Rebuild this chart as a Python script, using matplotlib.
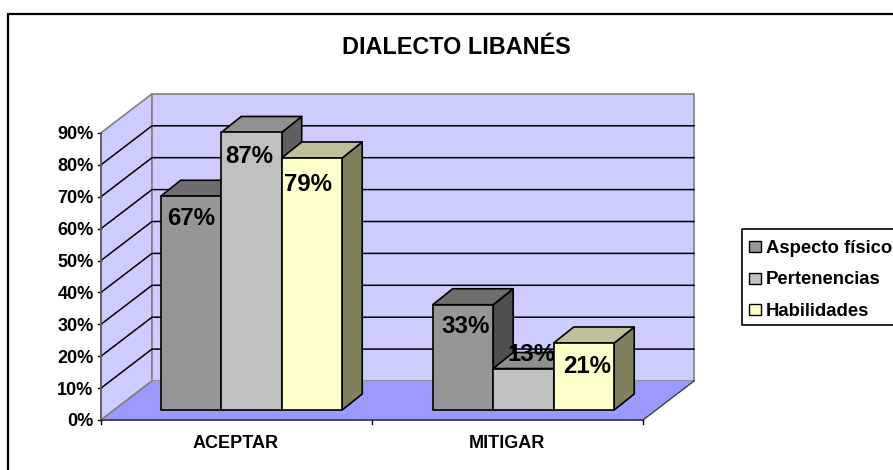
import matplotlib
matplotlib.use("Agg")
from matplotlib import pyplot as plt
from matplotlib.patches import Polygon

plt.rcParams['font.family'] = ['Liberation Sans', 'DejaVu Sans']

title = "DIALECTO LIBANÉS"
categories = ["ACEPTAR", "MITIGAR"]
series_names = ["Aspecto físico", "Pertenencias", "Habilidades"]
aspecto = [67, 33]
pertenencias = [87, 13]
habilidades = [79, 21]
y_ticks = [0, 10, 20, 30, 40, 50, 60, 70, 80, 90]

# face colours per series: front, top, side
front_cols = ["#969696", "#C0C0C0", "#FFFFCC"]
top_cols = ["#6E6E6E", "#909090", "#BFBF99"]
side_cols = ["#4F4F4F", "#606060", "#80805F"]

# layout in pixels of the 893x470 picture
X0, X1 = 101, 643     # floor front edge
Y0, PX_PER_PCT = 420, 3.19
WALL_DX, WALL_DY = 51, 39
BAR_DX, BAR_DY = 20, 16
BAR_BASE = 410
BAR_W = 60.5
GROUP_X = [160.7, 432.7]
# label offsets from bar front centre / bar top (one per category, per series)
LABEL_DX = [[0, -2, -3.5], [3, 8, 3]]
LABEL_DY = [[22.5, 24.5, 26.5], [21.5, -14.5, 23.5]]

fig = plt.figure(figsize=(8.93, 4.70), dpi=100)
ax = fig.add_axes([0, 0, 1, 1])
ax.set_xlim(0, 893)
ax.set_ylim(470, 0)
ax.axis("off")


def py(v):
    return Y0 - v * PX_PER_PCT


def face(pts, col, z, ec="black", lw=1.2):
    ax.add_patch(Polygon(pts, closed=True, fc=col, ec=ec, lw=lw, zorder=z, joinstyle="round"))


# chart area border, only top and left are in the picture
ax.plot([8, 8, 893], [470, 14, 14], color="black", lw=1.6, zorder=1, solid_joinstyle="miter")

top_v = y_ticks[-1]
# walls and floor
face([(X0, py(0)), (X0, py(top_v)), (X0 + WALL_DX, py(top_v) - WALL_DY), (X0 + WALL_DX, py(0) - WALL_DY)],
     "#CCCCFF", 2, ec="#808080")
face([(X0 + WALL_DX, py(0) - WALL_DY), (X0 + WALL_DX, py(top_v) - WALL_DY),
      (X1 + WALL_DX, py(top_v) - WALL_DY), (X1 + WALL_DX, py(0) - WALL_DY)],
     "#CCCCFF", 2, ec="#808080")
face([(X0, py(0)), (X0 + WALL_DX, py(0) - WALL_DY), (X1 + WALL_DX, py(0) - WALL_DY), (X1, py(0))],
     "#9999FF", 3, ec="none", lw=0)

# gridlines and y ticks
for v in y_ticks:
    y = py(v)
    if v not in (0, top_v):
        ax.plot([X0, X0 + WALL_DX, X1 + WALL_DX], [y, y - WALL_DY, y - WALL_DY], color="black", lw=1.1, zorder=4)
    ax.plot([X0 - 3, X0], [y, y], color="black", lw=1.0, zorder=5)
    ax.text(X0 - 7.5, y + 2, f"{v}%", ha="right", va="center", fontsize=13, fontweight="bold", zorder=5)

# floor edges and axes
ax.plot([X0, X0 + WALL_DX], [py(0), py(0) - WALL_DY], color="#808080", lw=1.2, zorder=5)
ax.plot([X1, X1 + WALL_DX], [py(0), py(0) - WALL_DY], color="#404040", lw=1.0, zorder=5)
ax.plot([X0, X1], [py(0), py(0)], color="#404040", lw=1.3, zorder=5)
ax.plot([X0, X0], [py(0), py(top_v)], color="#606060", lw=1.3, zorder=5)
for i in range(len(categories) + 1):
    tx = X0 + i * (X1 - X0) / len(categories)
    ax.plot([tx, tx], [py(0), py(0) + 4], color="black", lw=1.0, zorder=5)

# bars, drawn left to right so each one hides the side of the previous
series = [aspecto, pertenencias, habilidades]
z = 6
for c, cat in enumerate(categories):
    for s, vals in enumerate(series):
        v = vals[c]
        x = GROUP_X[c] + s * BAR_W
        top = BAR_BASE - v * PX_PER_PCT
        xr = x + BAR_W
        face([(xr, BAR_BASE), (xr + BAR_DX, BAR_BASE - BAR_DY), (xr + BAR_DX, top - BAR_DY), (xr, top)], side_cols[s], z)
        face([(x, top), (x + BAR_DX, top - BAR_DY), (xr + BAR_DX, top - BAR_DY), (xr, top)], top_cols[s], z)
        face([(x, BAR_BASE), (x, top), (xr, top), (xr, BAR_BASE)], front_cols[s], z)
        ax.text(x + BAR_W / 2 + LABEL_DX[c][s], top + LABEL_DY[c][s], f"{v}%", ha="center", va="center",
                fontsize=17.3, fontweight="bold", color="black", zorder=z)
        z += 1
    cx = X0 + (c + 0.5) * (X1 - X0) / len(categories)
    ax.text(cx - 1, 443.5, cat, ha="center", va="center", fontsize=13, fontweight="bold", zorder=5)

ax.text(456.7, 54, title, ha="center", va="baseline", fontsize=16.8, fontweight="bold")

# legend, runs off the right edge of the picture
LEG_L, LEG_T, LEG_B = 741.7, 229, 325
ax.plot([893, LEG_L, LEG_L, 893], [LEG_T, LEG_T, LEG_B, LEG_B], color="black", lw=1.2, zorder=5)
for i, name in enumerate(series_names):
    y = 246.7 + i * 31.6
    ax.add_patch(plt.Rectangle((749, y - 5.5), 11.5, 11, fc=front_cols[i], ec="black", lw=1.0, zorder=5))
    ax.text(766, y + 1.5, name, ha="left", va="center", fontsize=13.3, fontweight="bold", zorder=5)

fig.savefig("out.png", dpi=100)
